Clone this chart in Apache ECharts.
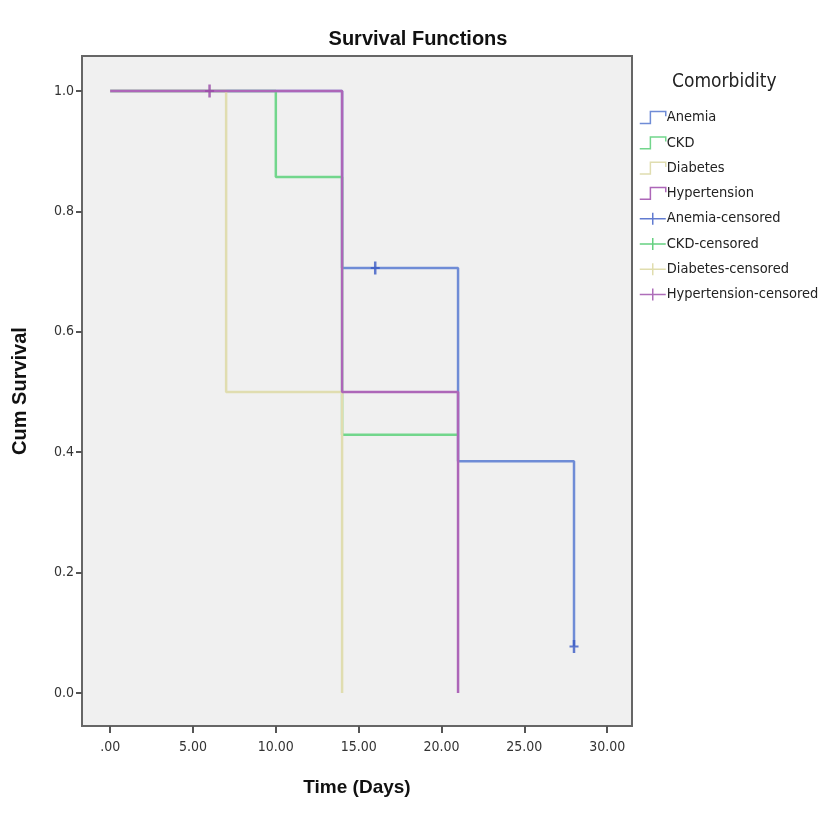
<!DOCTYPE html>
<html>
<head>
<meta charset="utf-8">
<script src="https://cdn.jsdelivr.net/npm/echarts@6/dist/echarts.min.js"></script>
<style>
  html, body { margin: 0; padding: 0; background: #fff; }
  #main { width: 836px; height: 835px; }
</style>
</head>
<body>
<div id="main"></div>
<script>
// 生存曲线数据 [时间, 累计生存率]
var anemia = [[0, 1], [14, 0.706], [21, 0.385], [28, 0.077]];
var ckd = [[0, 1], [10, 0.857], [14, 0.429], [21, 0.429]];
var diabetes = [[0, 1], [7, 0.5], [14, 0]];
var hypertension = [[0, 1], [14, 0.5], [21, 0]];

// 删失点
var anemiaCensored = [[16, 0.706], [28, 0.077]];
var ckdCensored = [];
var diabetesCensored = [];
var hypertensionCensored = [[6, 1]];

var xTicks = [0, 5, 10, 15, 20, 25, 30];
var yTicks = [0, 0.2, 0.4, 0.6, 0.8, 1.0];

var colors = {
  anemia: '#6f8cd6',
  ckd: '#72d68c',
  diabetes: '#e0ddb0',
  hypertension: '#ad66b8'
};
var markColors = {
  anemia: '#3a5ac4',
  ckd: '#3fc460',
  diabetes: '#d8d49a',
  hypertension: '#9a4aa8'
};

var stepIcon = 'path://M0,11L9,11L9,1L22,1L22,5';
var crossIcon = 'path://M0,5.25h26v1.5h-26zM12.25,0h1.5v12h-1.5z';
var censorSymbol = 'path://M3.25,0h2.5v13h-2.5zM0,5.5h9v2h-9z';

var narrow = '"Liberation Sans Narrow", "DejaVu Sans Condensed", sans-serif';

function stepSeries(name, data, color) {
  return {
    name: name,
    type: 'line',
    step: 'end',
    symbol: 'none',
    data: data,
    lineStyle: { color: color, width: 2.5 },
    itemStyle: { color: color },
    animation: false
  };
}

function censorSeries(name, data, color) {
  return {
    name: name,
    type: 'scatter',
    symbol: censorSymbol,
    symbolSize: [9, 13],
    data: data,
    itemStyle: { color: color },
    z: 5,
    animation: false
  };
}

function stepLegend(name, color) {
  return {
    name: name,
    icon: stepIcon,
    itemStyle: { color: 'rgba(0,0,0,0)', borderColor: color, borderWidth: 1.5 }
  };
}

function crossLegend(name, color) {
  return {
    name: name,
    icon: crossIcon,
    itemStyle: { color: color, borderWidth: 0 }
  };
}

var chart = echarts.init(document.getElementById('main'));

var option = {
  backgroundColor: '#ffffff',
  title: [{
    text: 'Survival Functions',
    left: 'center',
    top: 24,
    textStyle: {
      fontFamily: 'Liberation Sans, Arial, sans-serif',
      fontWeight: 'bold',
      fontSize: 20,
      color: '#111'
    }
  }, {
    text: 'Comorbidity',
    left: 667,
    top: 68,
    textStyle: {
      fontFamily: narrow,
      fontWeight: 'normal',
      fontSize: 19,
      color: '#222'
    }
  }],
  legend: {
    orient: 'vertical',
    left: 634,
    top: 105,
    itemWidth: 26,
    itemHeight: 12,
    itemGap: 10.3,
    selectedMode: false,
    textStyle: { fontFamily: narrow, fontSize: 14.5, color: '#222', padding: [0, 0, 0, -4] },
    data: [
      stepLegend('Anemia', colors.anemia),
      stepLegend('CKD', colors.ckd),
      stepLegend('Diabetes', colors.diabetes),
      stepLegend('Hypertension', colors.hypertension),
      crossLegend('Anemia-censored', markColors.anemia),
      crossLegend('CKD-censored', markColors.ckd),
      crossLegend('Diabetes-censored', markColors.diabetes),
      crossLegend('Hypertension-censored', markColors.hypertension)
    ]
  },
  grid: {
    left: 82,
    right: 204,
    top: 56,
    bottom: 109,
    show: true,
    backgroundColor: '#f0f0f0',
    borderColor: '#666666',
    borderWidth: 2
  },
  xAxis: {
    type: 'value',
    min: -1.7,
    max: 31.5,
    name: 'Time (Days)',
    nameLocation: 'middle',
    nameGap: 52,
    nameTextStyle: {
      fontFamily: 'Liberation Sans, Arial, sans-serif',
      fontWeight: 'bold',
      fontSize: 19,
      color: '#111'
    },
    axisLine: { show: false, onZero: false },
    splitLine: { show: false },
    axisTick: {
      show: true,
      inside: false,
      length: 7,
      customValues: xTicks,
      lineStyle: { color: '#555', width: 2 }
    },
    axisLabel: {
      customValues: xTicks,
      margin: 14,
      fontFamily: narrow,
      fontSize: 14,
      color: '#333',
      formatter: function (v) {
        return v === 0 ? '.00' : v.toFixed(2);
      }
    }
  },
  yAxis: {
    type: 'value',
    min: -0.055,
    max: 1.058,
    name: 'Cum Survival',
    nameLocation: 'middle',
    nameGap: 52,
    nameTextStyle: {
      fontFamily: 'Liberation Sans, Arial, sans-serif',
      fontWeight: 'bold',
      fontSize: 20,
      color: '#111'
    },
    axisLine: { show: false, onZero: false },
    splitLine: { show: false },
    axisTick: {
      show: true,
      inside: false,
      length: 6,
      customValues: yTicks,
      lineStyle: { color: '#555', width: 2 }
    },
    axisLabel: {
      customValues: yTicks,
      margin: 8,
      fontFamily: narrow,
      fontSize: 14,
      color: '#333',
      formatter: function (v) {
        return v.toFixed(1);
      }
    }
  },
  series: [
    stepSeries('Anemia', anemia, colors.anemia),
    stepSeries('CKD', ckd, colors.ckd),
    stepSeries('Diabetes', diabetes, colors.diabetes),
    stepSeries('Hypertension', hypertension, colors.hypertension),
    censorSeries('Anemia-censored', anemiaCensored, markColors.anemia),
    censorSeries('CKD-censored', ckdCensored, markColors.ckd),
    censorSeries('Diabetes-censored', diabetesCensored, markColors.diabetes),
    censorSeries('Hypertension-censored', hypertensionCensored, markColors.hypertension)
  ]
};

chart.setOption(option);
</script>
</body>
</html>
